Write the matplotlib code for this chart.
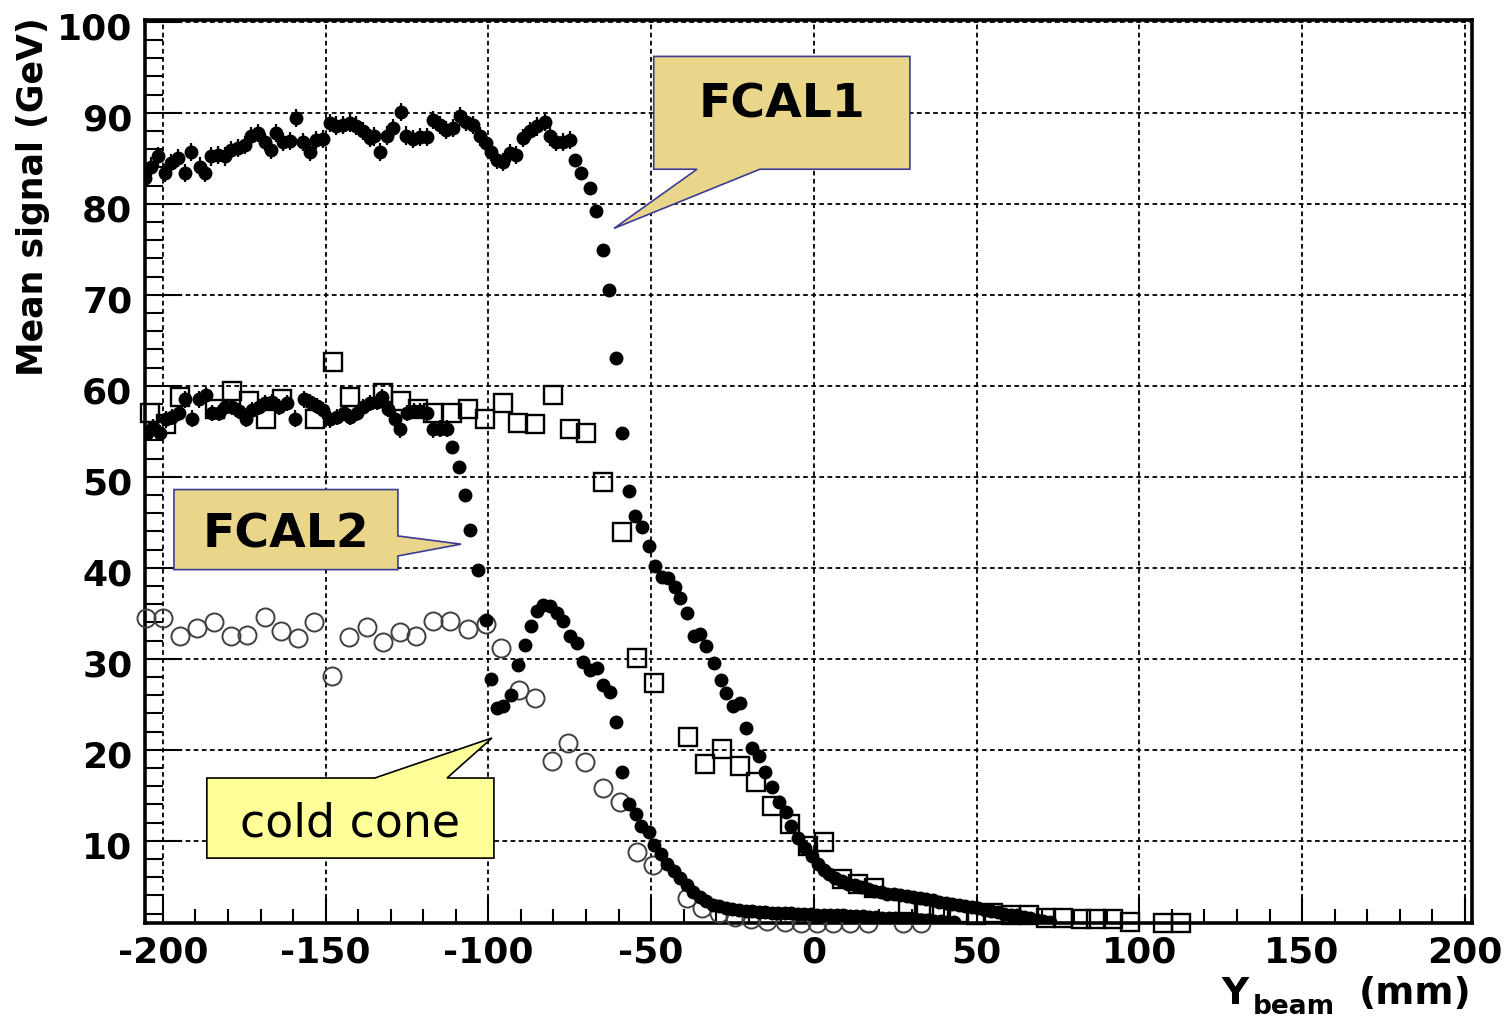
"""
Mean signal vs beam position, FCAL1 / FCAL2 scan
"""

import matplotlib.pyplot as plt
import matplotlib.transforms as mtransforms
from matplotlib.patches import Polygon
from matplotlib.ticker import MultipleLocator

plt.rcParams['axes.unicode_minus'] = False
plt.rcParams['font.family'] = 'DejaVu Sans'

# ---- FCAL1, filled circles, flat part (with error bars)
fcal1_flat_x = [-205.6, -203.6, -201.5, -199.5, -197.4, -195.4, -193.3, -191.3, -188.7,
                -187.2, -185.1, -183.1, -181.0, -179.0, -176.9, -174.9, -172.8, -170.8,
                -168.7, -166.7, -165.1, -163.1, -161.0, -159.2, -157.0, -154.9, -152.9,
                -150.8, -148.8, -146.7, -144.7, -142.6, -140.6, -138.5, -136.5, -135.0,
                -133.4, -131.3, -129.3, -126.9, -125.2, -123.2, -121.1, -119.0, -117.0,
                -115.0, -112.9, -110.9, -108.8, -106.8, -104.7, -102.7, -100.6, -99.1,
                -97.5, -95.5, -93.4, -91.4, -89.4, -87.3, -85.2, -82.7, -81.2, -79.1,
                -77.1, -75.0]
fcal1_flat_y = [82.8, 84.1, 85.2, 83.4, 84.5, 85.0, 83.4, 85.7, 84.1,
                83.4, 85.2, 85.4, 85.2, 85.9, 86.1, 86.5, 87.4, 87.8,
                86.8, 85.9, 87.8, 86.8, 86.9, 89.4, 86.8, 85.7, 87.0,
                87.1, 88.9, 88.6, 88.7, 88.9, 88.6, 88.0, 87.2, 87.4,
                85.7, 87.5, 88.3, 90.1, 87.5, 87.1, 87.3, 87.3, 89.2,
                88.7, 88.1, 88.3, 89.6, 89.0, 88.7, 87.4, 86.7, 85.7,
                84.8, 84.6, 85.6, 85.4, 87.2, 88.0, 88.5, 89.0, 87.4, 86.8,
                86.8, 87.0]

# ---- FCAL1, filled circles, fall-off
fcal1_fall_x = [-73.5, -71.4, -68.9, -67.0, -64.8, -62.9, -60.9, -58.8, -56.9, -55.0,
                -52.8, -50.6, -48.9, -46.8, -44.8, -42.7, -41.2, -39.0, -36.9, -35.1,
                -33.0, -30.7, -28.6, -26.9, -24.8, -22.8, -21.0, -18.9, -16.8, -14.9,
                -12.8, -10.8, -8.7, -6.9, -4.8, -2.8, -0.7, 1.3, 3.0, 4.7,
                6.5, 8.5, 10.5, 12.5, 14.5, 16.5, 18.5, 20.5, 22.5, 24.5,
                26.5, 28.5, 30.5, 32.5, 34.5, 36.5, 38.5, 40.5, 42.5, 44.5,
                46.5, 48.5, 50.5, 52.5, 54.5, 56.5, 58.5, 60.5, 62.5, 64.5,
                66.5, 68.5, 70.5, 72.5]
fcal1_fall_y = [84.8, 83.4, 81.7, 79.2, 74.9, 70.5, 63.1, 54.8, 48.4, 45.7,
                44.5, 42.4, 40.2, 39.0, 38.9, 37.9, 36.7, 35.0, 32.5, 32.7,
                31.4, 29.5, 27.7, 26.2, 24.8, 25.1, 22.4, 20.2, 19.3, 17.6,
                15.9, 14.3, 13.2, 11.6, 10.3, 9.2, 8.3, 7.4, 6.8, 6.3,
                5.9, 5.6, 5.3, 5.1, 4.9, 4.7, 4.5, 4.4, 4.2, 4.1,
                4.0, 3.9, 3.8, 3.7, 3.6, 3.5, 3.3, 3.2, 3.1, 3.0,
                2.8, 2.7, 2.6, 2.4, 2.3, 2.2, 2.0, 1.9, 1.8, 1.6,
                1.5, 1.3, 1.2, 1.1]

# ---- FCAL2, filled circles, flat part (with error bars)
fcal2_flat_x = [-205.0, -203.0, -200.9, -199.2, -197.1, -195.1, -193.1, -191.0, -189.0,
                -186.9, -184.9, -182.8, -180.8, -178.7, -176.7, -174.6, -172.6, -170.5,
                -168.5, -166.5, -164.4, -161.9, -159.3, -156.8, -154.7, -152.7, -150.7,
                -148.6, -146.6, -144.5, -142.5, -140.4, -138.4, -136.3, -134.3, -132.7,
                -130.7, -128.6, -127.1, -125.1, -123.0, -121.0, -118.9, -116.9, -114.8,
                -112.8]
fcal2_flat_y = [54.8, 55.5, 54.8, 56.3, 56.6, 57.0, 58.5, 56.4, 58.5,
                59.0, 57.0, 57.0, 57.7, 57.7, 57.2, 56.4, 57.3, 57.7,
                58.1, 58.2, 57.7, 58.1, 56.4, 58.5, 58.2, 57.8, 57.3,
                56.3, 56.6, 57.0, 56.6, 57.0, 57.7, 58.1, 58.2, 58.8,
                57.5, 56.3, 55.2, 57.0, 57.2, 57.2, 57.0, 55.2, 55.3,
                55.3]

# ---- FCAL2, filled circles, fall-off and cold cone
fcal2_fall_x = [-111.2, -108.9, -107.2, -105.5, -103.2, -100.8, -99.1, -97.5, -95.4, -92.9,
                -90.8, -88.7, -86.9, -85.1, -83.1, -81.1, -79.0, -77.0, -74.9, -72.9,
                -70.8, -68.8, -66.7, -64.7, -62.6, -60.9, -59.1, -56.9, -54.8, -53.0,
                -50.8, -49.0, -47.0, -45.0, -43.0, -41.0, -39.0, -37.0, -35.0, -33.0,
                -31.0, -29.0, -27.0, -25.0, -23.0, -21.0, -19.0, -17.0, -15.0, -13.0,
                -11.0, -9.0, -7.0, -5.0, -3.0, -1.0, 1.0, 3.0, 5.0, 7.0,
                9.0, 11.0, 13.0, 15.0, 17.0, 19.0, 21.0, 23.0, 25.0, 27.0,
                29.0, 31.0, 33.0, 35.0, 37.0, 39.0, 41.0, 43.0]
fcal2_fall_y = [53.3, 51.1, 48.0, 44.1, 39.8, 34.3, 27.8, 24.6, 24.8, 26.0,
                29.3, 31.5, 33.6, 35.2, 35.9, 35.8, 35.0, 34.1, 32.5, 31.7,
                29.7, 28.8, 29.0, 27.1, 26.4, 23.1, 17.6, 14.0, 12.9, 11.6,
                11.0, 9.5, 8.5, 7.5, 6.7, 5.9, 5.1, 4.4, 3.8, 3.4,
                3.0, 2.8, 2.6, 2.5, 2.4, 2.3, 2.3, 2.2, 2.2, 2.1,
                2.1, 2.1, 2.1, 2.0, 2.0, 2.0, 1.9, 1.9, 1.9, 1.8,
                1.8, 1.7, 1.7, 1.7, 1.6, 1.6, 1.5, 1.5, 1.5, 1.4,
                1.4, 1.4, 1.3, 1.3, 1.2, 1.2, 1.1, 1.1]

# ---- open squares
sq_x = [-204.0, -199.2, -194.8, -184.1, -178.7, -173.6, -168.4, -163.4, -153.3, -147.8,
        -142.6, -132.3, -126.7, -121.6, -117.0, -111.3, -106.2, -101.1, -95.5, -90.9,
        -85.8, -80.1, -75.0, -69.9, -64.7, -59.1, -54.2, -49.1, -38.6, -33.5,
        -28.1, -22.8, -17.9, -12.8, -7.3, -1.8, 3.1, 8.5, 13.6, 18.6,
        28.8, 33.9, 38.5, 44.7, 49.8, 54.9, 60.6, 66.2, 71.3, 76.4,
        82.1, 86.7, 91.8, 97.0, 107.2, 112.8]
sq_y = [57.0, 55.8, 58.8, 57.4, 59.4, 58.3, 56.3, 58.6, 56.3, 62.6,
        58.8, 59.2, 58.3, 57.5, 57.0, 57.0, 57.5, 56.4, 58.1, 55.9,
        55.8, 59.0, 55.2, 54.8, 49.4, 43.9, 30.1, 27.3, 21.4, 18.4,
        20.1, 18.2, 16.5, 13.8, 11.9, 9.4, 9.9, 5.8, 5.3, 4.8,
        3.1, 2.8, 2.2, 2.1, 1.9, 2.1, 1.9, 1.9, 1.5, 1.5,
        1.4, 1.4, 1.4, 1.1, 1.0, 1.0]

# ---- open circles
oc_x = [-205.1, -200.0, -194.6, -189.5, -184.4, -179.2, -174.1, -168.7, -163.6, -158.4,
        -153.6, -147.9, -142.9, -137.4, -132.3, -127.2, -122.1, -117.0, -111.9, -106.2,
        -100.6, -96.0, -90.7, -85.6, -80.5, -75.6, -70.2, -64.9, -59.6, -54.3,
        -49.4, -38.9, -34.3, -29.3, -24.3, -19.3, -14.3, -9.0, -4.0, 1.0,
        6.0, 11.0, 16.5, 27.5, 33.0]
oc_y = [34.5, 34.5, 32.5, 33.4, 34.0, 32.5, 32.6, 34.6, 33.1, 32.3,
        34.0, 28.1, 32.4, 33.5, 31.9, 33.0, 32.5, 34.1, 34.1, 33.3,
        33.8, 31.2, 26.6, 25.7, 18.8, 20.7, 18.7, 15.8, 14.3, 8.8,
        7.3, 3.7, 2.6, 2.1, 1.6, 1.4, 1.2, 1.1, 1.0, 1.0,
        1.0, 1.0, 1.0, 1.0, 1.0]

x_ticks = [-200, -150, -100, -50, 0, 50, 100, 150, 200]
x_ticklabels = ['-200', '-150', '-100', '-50', '0', '50', '100', '150', '200']
y_ticks = [10, 20, 30, 40, 50, 60, 70, 80, 90, 100]

fig = plt.figure(figsize=(15.08, 10.17), dpi=100)
ax = fig.add_axes([145 / 1508, 1 - 922.7 / 1017, 1327 / 1508, 902.7 / 1017])

ax.plot(oc_x, oc_y, 'o', ms=13, mfc='none', mec='#404040', mew=1.4,
        clip_on=False, zorder=3)
ax.plot(sq_x, sq_y, 's', ms=12.5, mfc='none', mec='black', mew=1.7,
        clip_on=False, zorder=3)
ax.errorbar(fcal1_flat_x, fcal1_flat_y, yerr=1.0, xerr=1.0, fmt='o', ms=9,
            color='black', elinewidth=1.6, capsize=0, zorder=4)
ax.errorbar(fcal2_flat_x, fcal2_flat_y, yerr=0.9, xerr=1.0, fmt='o', ms=9,
            color='black', elinewidth=1.6, capsize=0, zorder=4)
ax.plot(fcal1_fall_x, fcal1_fall_y, 'o', ms=9, color='black', zorder=4)
ax.plot(fcal2_fall_x, fcal2_fall_y, 'o', ms=9, color='black', zorder=4)

ax.set_xlim(-205.5, 202.2)
ax.set_ylim(1.0, 100.2)
ax.set_xticks(x_ticks)
ax.set_xticklabels(x_ticklabels)
ax.set_yticks(y_ticks)
ax.xaxis.set_minor_locator(MultipleLocator(10))
ax.yaxis.set_minor_locator(MultipleLocator(2))

ax.tick_params(axis='y', which='major', direction='in', length=26.5, width=1.5,
               labelsize=26, pad=9)
ax.tick_params(axis='y', which='minor', direction='in', length=13, width=1.5)
ax.tick_params(axis='x', which='major', direction='in', length=18.5, width=1.5,
               labelsize=26, pad=9)
ax.tick_params(axis='x', which='minor', direction='in', length=10, width=1.5)
for lab in ax.get_xticklabels() + ax.get_yticklabels():
    lab.set_fontweight('bold')
shift = mtransforms.ScaledTranslation(0, -3 / 72, fig.dpi_scale_trans)
for lab in ax.get_yticklabels():
    lab.set_transform(lab.get_transform() + shift)

ax.grid(True, which='major', color='black', linestyle=(0, (2.6, 1.9)), linewidth=1.3)
ax.set_axisbelow(True)
for sp in ax.spines.values():
    sp.set_linewidth(2.6)

# axis titles
fig.text(33 / 1508, 1 - 17 / 1017, 'Mean signal (GeV)', rotation=90,
         ha='center', va='top', fontsize=25, fontweight='bold')
fig.text(1221 / 1508, 1 - 1004 / 1017, 'Y', ha='left', va='baseline',
         fontsize=27, fontweight='bold')
fig.text(1253 / 1508, 1 - 1014 / 1017, 'beam', ha='left', va='baseline',
         fontsize=19, fontweight='bold')
fig.text(1472 / 1508, 1 - 1004 / 1017, '(mm)', ha='right', va='baseline',
         fontsize=27, fontweight='bold')

# callouts
fcal1_box = [(-49.2, 96.2), (29.5, 96.2), (29.5, 83.8), (-16.6, 83.8),
             (-61.4, 77.3), (-35.9, 83.8), (-49.2, 83.8)]
fcal2_box = [(-196.6, 48.6), (-127.8, 48.6), (-127.8, 43.5), (-108.4, 42.6),
             (-127.8, 41.3), (-127.8, 39.8), (-196.6, 39.8)]
cone_box = [(-186.5, 16.9), (-134.9, 16.9), (-98.9, 21.3), (-112.7, 16.9),
            (-98.3, 16.9), (-98.3, 8.1), (-186.5, 8.1)]

ax.add_patch(Polygon(fcal1_box, closed=True, facecolor='#EAD68A',
                     edgecolor='#3C3C96', linewidth=1.2, zorder=6))
ax.add_patch(Polygon(fcal2_box, closed=True, facecolor='#EAD68A',
                     edgecolor='#3C3C96', linewidth=1.2, zorder=6))
ax.add_patch(Polygon(cone_box, closed=True, facecolor='#FFFF99',
                     edgecolor='black', linewidth=1.2, zorder=6))
ax.text(-9.8, 90.9, 'FCAL1', ha='center', va='center', fontsize=34,
        fontweight='bold', zorder=7)
ax.text(-162.2, 43.6, 'FCAL2', ha='center', va='center', fontsize=34,
        fontweight='bold', zorder=7)
ax.text(-142.5, 11.8, 'cold cone', ha='center', va='center', fontsize=33,
        zorder=7)

plt.savefig('out.png', dpi=100)
